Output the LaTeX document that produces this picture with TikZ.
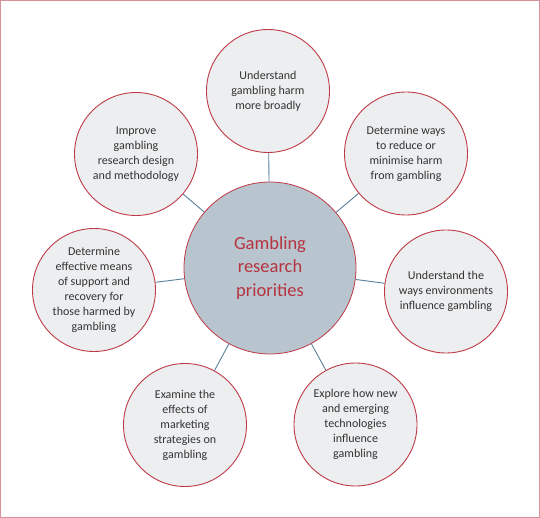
\documentclass[tikz,border=0pt]{standalone}
\usepackage{fontspec}
\setmainfont{Carlito}
\definecolor{frame}{HTML}{D8909A}
\definecolor{ring}{HTML}{BE3A46}
\definecolor{hubfill}{HTML}{B8C4CE}
\definecolor{leaffill}{HTML}{EDEEF0}
\definecolor{link}{HTML}{5A7F9A}
\definecolor{hubtext}{HTML}{B5343F}
\definecolor{leaftext}{HTML}{333333}
\tikzset{
  leaf/.style={circle, draw=ring, line width=0.9pt, fill=leaffill, minimum size=123pt, inner sep=0pt,
    align=center, text=leaftext, font=\fontsize{12}{15}\selectfont},
  hub/.style={circle, draw=ring, line width=0.8pt, fill=hubfill, minimum size=172pt, inner sep=0pt,
    align=center, text=hubtext, font=\fontsize{18.5}{23.5}\selectfont},
  conn/.style={draw=link, line width=0.9pt}
}
\begin{document}
\begin{tikzpicture}[x=1pt,y=-1pt]
\useasboundingbox (0,0) rectangle (540,518);
\draw[frame, line width=1.2pt] (0.6,0.6) rectangle (539.4,517.4);
\node[hub] (c) at (270,268) {Gambling\\research\\priorities};
\node[leaf] (t) at (268,91) {Understand\\gambling harm\\more broadly};
\node[leaf] (tr) at (406,153.5) {Determine ways\\to reduce or\\minimise harm\\from gambling};
\node[leaf] (r) at (446,291.5) {Understand the\\ways environments\\influence gambling};
\node[leaf] (br) at (355.5,424.5) {Explore how new\\and emerging\\technologies\\influence\\gambling};
\node[leaf] (bl) at (185,425) {Examine the\\effects of\\marketing\\strategies on\\gambling};
\node[leaf] (l) at (94,290) {Determine\\effective means\\of support and\\recovery for\\those harmed by\\gambling};
\node[leaf] (tl) at (136,154) {Improve\\gambling\\research design\\and methodology};
\foreach \n in {t,tr,r,br,bl,l,tl} {\draw[conn] (c) -- (\n);}
\end{tikzpicture}
\end{document}
